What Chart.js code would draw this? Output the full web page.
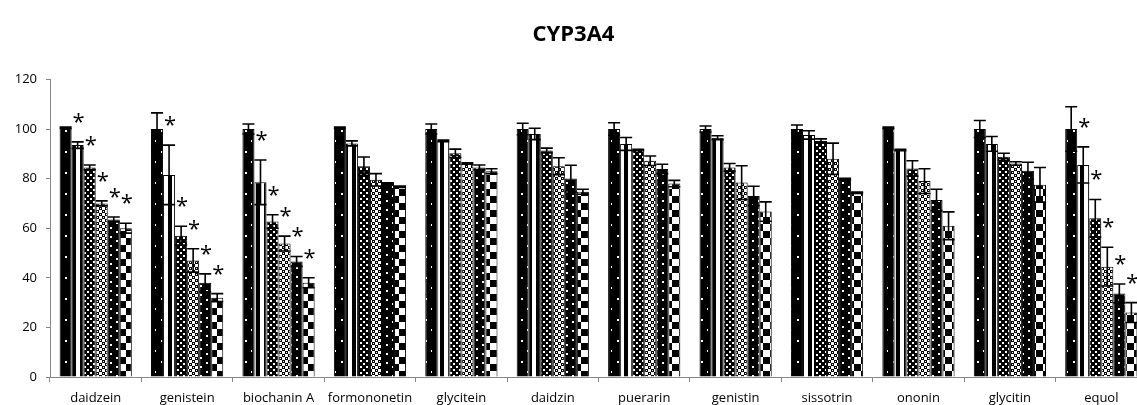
<!DOCTYPE html>
<html>
<head>
<meta charset="utf-8">
<script src="https://cdn.jsdelivr.net/npm/chart.js@4.4.1/dist/chart.umd.min.js"></script>
<style>
  html, body { margin: 0; padding: 0; background: #fff; overflow: hidden; }
  #wrap { width: 1137px; height: 405px; overflow: hidden; }
  canvas { display: block; }
</style>
</head>
<body>
<div id="wrap"><canvas id="cypChart" width="1150" height="405"></canvas></div>
<script>
// categories (compounds) and y axis ticks
const categories = ["daidzein", "genistein", "biochanin A", "formononetin", "glycitein", "daidzin",
  "puerarin", "genistin", "sissotrin", "ononin", "glycitin", "equol"];
const yTicks = [0, 20, 40, 60, 80, 100, 120];

// mean activity (% of control) for the 6 concentrations, and the error (SD)
const conc1 = [100.5, 100, 100, 100.5, 100, 100, 100, 100, 100, 100.5, 100, 100];
const err1 = [0.3, 6.5, 2, 0.3, 2, 2.3, 2.5, 1.2, 1.6, 0.3, 3.4, 9];
const conc2 = [93.5, 81.5, 78.5, 94.2, 95.2, 98, 94, 96.5, 97.6, 91.5, 94, 85.5];
const err2 = [1.3, 12, 9, 1, 0.3, 2.3, 2.6, 0.8, 1.7, 0.3, 3, 7.3];
const conc3 = [84.5, 57, 62.7, 85, 90.2, 91.3, 91.5, 84.5, 95.2, 84.1, 88.8, 64];
const err3 = [1, 3.8, 2.7, 3.7, 1.7, 1, 0.3, 1.6, 0.8, 3.1, 1.4, 7.6];
const conc4 = [70, 47, 53.8, 79.5, 86.1, 85, 87.2, 78.4, 88, 79, 86.1, 44.5];
const err4 = [1, 4.7, 3, 2.5, 0.3, 3.4, 1.9, 6.8, 6.3, 5, 0.7, 7.8];
const conc5 = [63.5, 38, 46.6, 78, 84.5, 80, 83.9, 73, 79.8, 71.4, 83.2, 33.7];
const err5 = [1, 3.6, 2, 0.3, 1, 5.4, 1.9, 3.9, 0.3, 4.3, 3.4, 3.8];
const conc6 = [60, 32, 38, 76.7, 83, 74.7, 78, 66.7, 74.3, 61, 77.5, 26];
const err6 = [2, 1.6, 2, 0.3, 1, 1, 1.3, 3.9, 0.3, 5.6, 7, 4];

// 1 = significant difference (*) for concentrations 2..6
const starred = [1, 1, 1, 0, 0, 0, 0, 0, 0, 0, 0, 1];

const allValues = [conc1, conc2, conc3, conc4, conc5, conc6];
const allErrors = [err1, err2, err3, err4, err5, err6];

const canvas = document.getElementById("cypChart");
const ctx = canvas.getContext("2d");

// small tiles used as fill patterns (black & white like the printed figure)
function makePattern(w, h, bg, fg, rects, holes) {
  const tile = document.createElement("canvas");
  tile.width = w;
  tile.height = h;
  const g = tile.getContext("2d");
  g.fillStyle = bg;
  g.fillRect(0, 0, w, h);
  g.fillStyle = fg;
  rects.forEach(r => g.fillRect(r[0], r[1], r[2], r[3]));
  if (holes) {
    g.fillStyle = bg;
    holes.forEach(r => g.fillRect(r[0], r[1], r[2], r[3]));
  }
  return ctx.createPattern(tile, "repeat");
}

const fills = [
  makePattern(12, 21, "#000", "#fff", [[5, 4, 2, 2], [11, 14, 2, 2]]),
  makePattern(8, 8, "#fff", "#000", [[0, 0, 4, 8]]),
  makePattern(6, 6, "#000", "#fff", [[0, 0, 2, 2], [3, 3, 2, 2]]),
  makePattern(6, 6, "#fff", "#000", [[0, 0, 3, 3], [3, 3, 3, 3]], [[1, 1, 1, 1], [4, 4, 1, 1]]),
  makePattern(12, 9, "#000", "#fff", [[2, 2, 2, 2], [8, 6, 2, 2]]),
  makePattern(14, 14, "#fff", "#000", [[0, 0, 7, 7], [7, 7, 7, 7]])
];

// error bars and asterisks on top of the bars
const errorBars = {
  id: "errorBars",
  afterDatasetsDraw(chart) {
    const y = chart.scales.y;
    const c = chart.ctx;
    c.save();
    c.strokeStyle = "#000";
    c.lineWidth = 1.6;
    chart.data.datasets.forEach((ds, i) => {
      const meta = chart.getDatasetMeta(i);
      meta.data.forEach((bar, j) => {
        const v = allValues[i][j];
        const e = allErrors[i][j];
        const top = y.getPixelForValue(v + e);
        const bot = y.getPixelForValue(v - e);
        const half = bar.width / 2;
        c.beginPath();
        c.moveTo(bar.x, top); c.lineTo(bar.x, bot);
        c.moveTo(bar.x - half, top); c.lineTo(bar.x + half, top);
        c.moveTo(bar.x - half, bot); c.lineTo(bar.x + half, bot);
        c.stroke();
        if (i > 0 && starred[j]) {
          c.fillStyle = "#000";
          c.font = "22px 'Open Sans'";
          c.textAlign = "center";
          c.textBaseline = "alphabetic";
          c.fillText("*", bar.x + 1, top - 13);
        }
      });
    });
    c.restore();
  }
};

new Chart(canvas, {
  type: "bar",
  data: {
    labels: categories,
    datasets: allValues.map((vals, i) => ({
      label: "c" + (i + 1),
      data: vals,
      backgroundColor: fills[i],
      borderColor: "#000",
      borderWidth: 1,
      categoryPercentage: 0.79,
      barPercentage: 1
    }))
  },
  options: {
    responsive: false,
    animation: false,
    // the plot runs a little past the right edge of the picture (last group is cut)
    layout: { padding: { top: 0, right: 3, bottom: 0, left: 0 } },
    plugins: {
      legend: { display: false },
      tooltip: { enabled: false },
      title: {
        display: true,
        text: "CYP3A4",
        color: "#000",
        font: { family: "Open Sans", size: 22, weight: "bold" },
        padding: { top: 22, bottom: 31 }
      }
    },
    scales: {
      x: {
        afterFit(s) { s.height = 28; },
        grid: { drawOnChartArea: false, tickLength: 5, color: "#868686", offset: true },
        border: { color: "#868686", width: 1 },
        ticks: { color: "#000", font: { family: "Open Sans", size: 13 }, padding: 8, maxRotation: 0, autoSkip: false }
      },
      y: {
        min: 0,
        max: 120,
        afterFit(s) { s.width = 50; },
        afterBuildTicks(s) { s.ticks = yTicks.map(v => ({ value: v })); },
        grid: { drawOnChartArea: false, tickLength: 4, color: "#868686" },
        border: { color: "#868686", width: 1 },
        ticks: { color: "#000", font: { family: "Open Sans", size: 13 }, padding: 9 }
      }
    }
  },
  plugins: [errorBars]
});
</script>
</body>
</html>
